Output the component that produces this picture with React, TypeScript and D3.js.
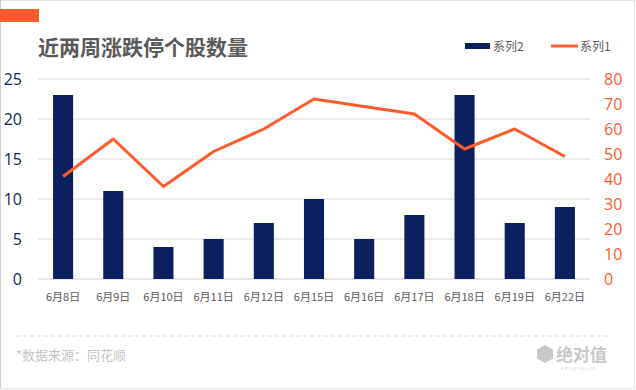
import React from "react";
import * as d3 from "d3";

const categories = ["6月8日", "6月9日", "6月10日", "6月11日", "6月12日", "6月15日", "6月16日", "6月17日", "6月18日", "6月19日", "6月22日"];
const series2 = [23, 11, 4, 5, 7, 10, 5, 8, 23, 7, 9];
const series1 = [41, 56, 37, 51, 60, 72, 69, 66, 52, 60, 49];
const leftTicks = [0, 5, 10, 15, 20, 25];
const rightTicks = [0, 10, 20, 30, 40, 50, 60, 70, 80];

const W = 636, H = 390;
const NAVY = "#0c1f5f";
const ORANGE = "#ff5b2c";
const FONT = "'Noto Sans CJK SC', 'Microsoft YaHei', sans-serif";

export default function App() {
  const x = d3.scaleBand<string>().domain(categories).range([38, 590]).paddingInner(0.6).paddingOuter(0.3);
  const yL = d3.scaleLinear().domain([0, 25]).range([279, 79]);
  const yR = d3.scaleLinear().domain([0, 80]).range([279, 79]);
  const line = d3.line<number>()
    .x((_, i) => (x(categories[i]) as number) + x.bandwidth() / 2)
    .y((d) => yR(d));

  return (
    <svg width={W} height={H} style={{ position: "absolute", left: 0, top: 0, fontFamily: FONT }}>
      <rect x={0.5} y={0.5} width={W - 2} height={H - 2} fill="#fff" stroke="#c8c8c8" strokeDasharray="1,1" />
      <line x1={0.5} y1={0} x2={0.5} y2={H - 2} stroke="#d0d0d0" />
      <rect x={0} y={9} width={39} height={13} fill={ORANGE} />
      <text x={38} y={55} fontSize={21} fontWeight="bold" fill="#595959">近两周涨跌停个股数量</text>

      {/* legend */}
      <rect x={465} y={43} width={25} height={6} fill={NAVY} />
      <text x={493} y={51} fontSize={12} fill="#595959">系列2</text>
      <line x1={551} y1={46} x2={578} y2={46} stroke={ORANGE} strokeWidth={3} />
      <text x={580} y={51} fontSize={12} fill="#595959">系列1</text>

      {/* gridlines */}
      {leftTicks.map((t) => (
        <line key={t} x1={38} x2={590} y1={yL(t)} y2={yL(t)} stroke={t === 0 ? "#cfcfcf" : "#dadada"} strokeWidth={1} />
      ))}
      {leftTicks.map((t) => (
        <text key={"l" + t} x={22} y={yL(t) + 6} fontSize={16} textAnchor="end" fill={NAVY} fontFamily="'Open Sans', sans-serif">{t}</text>
      ))}
      {rightTicks.map((t) => (
        <text key={"r" + t} x={604} y={yR(t) + 6} fontSize={16} textAnchor="start" fill={ORANGE} fontFamily="'Open Sans', sans-serif">{t}</text>
      ))}

      {series2.map((v, i) => (
        <rect key={i} x={x(categories[i])} y={yL(v)} width={x.bandwidth()} height={yL(0) - yL(v)} fill={NAVY} />
      ))}
      <path d={line(series1) as string} fill="none" stroke={ORANGE} strokeWidth={3} strokeLinejoin="round" />

      {categories.map((c) => (
        <text key={c} x={(x(c) as number) + x.bandwidth() / 2} y={301} fontSize={11} textAnchor="middle" fill="#595959">{c}</text>
      ))}

      <line x1={16} x2={610} y1={336} y2={336} stroke="#d6d6d6" strokeDasharray="4,3" />
      <text x={16} y={360} fontSize={13} fill="#c4c4c4">*数据来源：同花顺</text>

      {/* watermark */}
      <g fill="#c8c8c8">
        <path d="M545,345 L553,349.5 L553,358.5 L545,363 L537,358.5 L537,349.5 Z" />
        <text x={556} y={361} fontSize={17} fontWeight="bold">绝对值</text>
        <text x={579} y={370} fontSize={4} letterSpacing={1.5} textAnchor="middle">ABSOVALUE</text>
      </g>
    </svg>
  );
}
